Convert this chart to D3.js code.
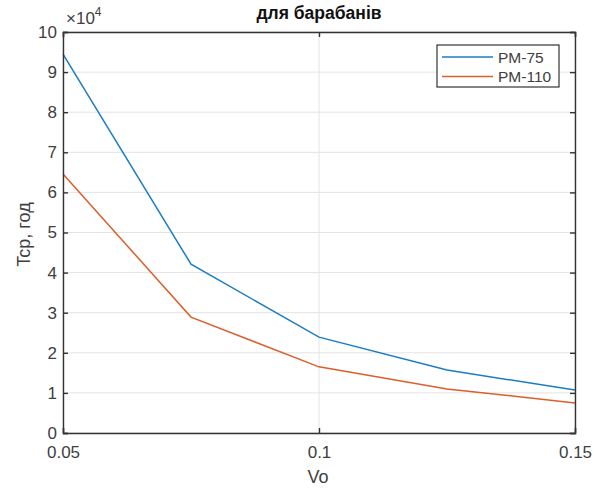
<!DOCTYPE html>
<html>
<head>
<meta charset="utf-8">
<script src="https://cdn.jsdelivr.net/npm/d3@7"></script>
<style>
  body { margin: 0; background: #fff; }
  svg { font-family: "Liberation Sans", Arial, sans-serif; }
</style>
</head>
<body>
<svg id="chart" width="596" height="494"></svg>
<script>
const vo = [0.05, 0.075, 0.1, 0.125, 0.15];
const pm75 = [94500, 42100, 23900, 15700, 10700];
const pm110 = [64600, 28900, 16500, 11000, 7500];
const seriesNames = ['PM-75', 'PM-110'];
const xTicks = [0.05, 0.1, 0.15];
const yTicks = [0, 1, 2, 3, 4, 5, 6, 7, 8, 9, 10];

const svg = d3.select('#chart');
const mLeft = 63, mRight = 575, mTop = 32, mBottom = 433;
const axisColor = '#333';
const textColor = '#404040';

const x = d3.scaleLinear().domain([0.05, 0.15]).range([mLeft, mRight]);
const y = d3.scaleLinear().domain([0, 100000]).range([mBottom, mTop]);

// grid
const grid = svg.append('g');
grid.selectAll('.gy').data(yTicks).enter().append('line')
    .attr('x1', mLeft).attr('x2', mRight)
    .attr('y1', d => y(d * 1e4)).attr('y2', d => y(d * 1e4))
    .attr('stroke', '#e3e3e3').attr('stroke-width', 1);
grid.selectAll('.gx').data(xTicks).enter().append('line')
    .attr('x1', d => x(d)).attr('x2', d => x(d))
    .attr('y1', mTop).attr('y2', mBottom)
    .attr('stroke', '#e3e3e3').attr('stroke-width', 1);

// series
const line = d3.line().x((d, i) => x(vo[i])).y(d => y(d));
const series = [pm75, pm110];
const colors = ['#1a7cc4', '#dc5f2b'];
series.forEach((s, i) => {
    svg.append('path').datum(s)
        .attr('d', line)
        .attr('fill', 'none')
        .attr('stroke', colors[i])
        .attr('stroke-width', 1.5);
});

// axes (ticks inward)
const fmtY = d => d / 1e4;
const axes = [
    svg.append('g').attr('transform', `translate(0,${mBottom})`)
        .call(d3.axisBottom(x).tickValues(xTicks).tickSize(-5).tickPadding(13).tickFormat(d3.format('~g'))),
    svg.append('g').attr('transform', `translate(0,${mTop})`)
        .call(d3.axisTop(x).tickValues(xTicks).tickSize(-5).tickFormat('')),
    svg.append('g').attr('transform', `translate(${mLeft},0)`)
        .call(d3.axisLeft(y).tickValues(yTicks.map(d => d * 1e4)).tickSize(-5).tickPadding(6).tickFormat(fmtY)),
    svg.append('g').attr('transform', `translate(${mRight},0)`)
        .call(d3.axisRight(y).tickValues(yTicks.map(d => d * 1e4)).tickSize(-5).tickFormat(''))
];
axes.forEach(a => {
    a.select('.domain').attr('stroke', axisColor).attr('stroke-width', 1.4);
    a.selectAll('.tick line').attr('stroke', axisColor).attr('stroke-width', 1.4);
    a.selectAll('.tick text').attr('fill', textColor)
        .style('font-family', '"Liberation Sans", Arial, sans-serif').style('font-size', '17px');
});

// exponent label
svg.append('text').attr('x', mLeft + 3).attr('y', 24)
    .attr('fill', textColor).style('font-size', '17px')
    .text('×10')
    .append('tspan').attr('dy', -8).style('font-size', '12px').text('4');

// title
svg.append('text').attr('x', (mLeft + mRight) / 2).attr('y', 19)
    .attr('text-anchor', 'middle').attr('font-weight', 'bold')
    .style('font-size', '17.5px').attr('fill', '#111')
    .text('для барабанів');

// axis labels
svg.append('text').attr('x', 318).attr('y', 483)
    .attr('text-anchor', 'middle').attr('fill', textColor).style('font-size', '18px')
    .text('Vo');
svg.append('text').attr('transform', `translate(30,${(mTop + mBottom) / 2 + 2}) rotate(-90)`)
    .attr('text-anchor', 'middle').attr('fill', textColor).style('font-size', '18px')
    .text('Tcp, год');

// legend
const lg = svg.append('g').attr('transform', 'translate(437,45)');
lg.append('rect').attr('width', 122).attr('height', 42)
    .attr('fill', '#fff').attr('stroke', axisColor).attr('stroke-width', 1.2);
seriesNames.forEach((n, i) => {
    const yy = 12 + i * 19.5;
    lg.append('line').attr('x1', 5).attr('x2', 56).attr('y1', yy).attr('y2', yy)
        .attr('stroke', colors[i]).attr('stroke-width', 1.5);
    lg.append('text').attr('x', 61).attr('y', yy + 5.5)
        .attr('fill', textColor).style('font-size', '15.5px').text(n);
});
</script>
</body>
</html>
